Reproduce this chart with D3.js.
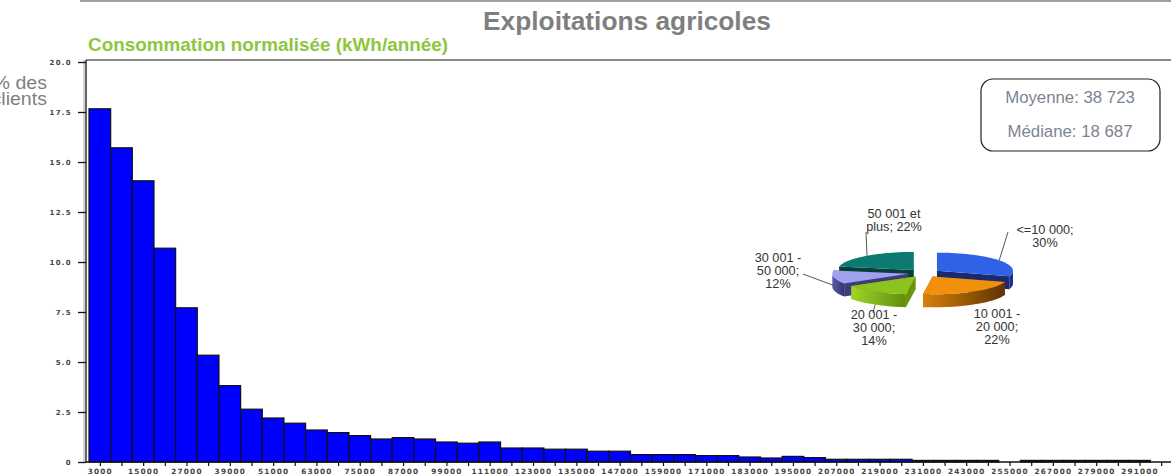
<!DOCTYPE html>
<html>
<head>
<meta charset="utf-8">
<script src="https://cdn.jsdelivr.net/npm/d3@7"></script>
<style>
body { margin: 0; background: #fff; }
svg { display: block; font-family: "Liberation Sans", Arial, sans-serif; }
</style>
</head>
<body>
<svg width="1171" height="475"></svg>
<script>
// histogram : % des clients par tranche de 6000 kWh (0 - 300000)
const binWidth = 6000;
const binShares = [17.66, 15.71, 14.06, 10.69, 7.71, 5.34, 3.82, 2.64, 2.20, 1.94,
    1.60, 1.47, 1.32, 1.15, 1.22, 1.15, 1.00, 0.94, 1.00, 0.70,
    0.70, 0.64, 0.64, 0.54, 0.54, 0.37, 0.37, 0.37, 0.32, 0.32,
    0.25, 0.20, 0.28, 0.22, 0.135, 0.135, 0.135, 0.135, 0.08, 0.08,
    0.08, 0.08, 0, 0.08, 0.08, 0.08, 0.08, 0.08, 0.08, 0];
const xTickLabels = [3000, 15000, 27000, 39000, 51000, 63000, 75000, 87000, 99000,
    111000, 123000, 135000, 147000, 159000, 171000, 183000, 195000, 207000, 219000,
    231000, 243000, 255000, 267000, 279000, 291000];
const yTicks = [0, 2.5, 5, 7.5, 10, 12.5, 15, 17.5, 20];

// camembert
const pieCategories = ["<=10 000", "10 001 - 20 000", "20 001 - 30 000", "30 001 - 50 000", "50 001 et plus"];
const pieShares = [30, 22, 14, 12, 22];
const pieLabelLines = [["<=10 000;", "30%"], ["10 001 -", "20 000;", "22%"],
    ["20 001 -", "30 000;", "14%"], ["30 001 -", "50 000;", "12%"], ["50 001 et", "plus; 22%"]];
const statLines = ["Moyenne: 38 723", "Médiane: 18 687"];

const svg = d3.select("svg");

// top rule
svg.append("line")
    .attr("x1", 80).attr("x2", 1171).attr("y1", 1).attr("y2", 1)
    .attr("stroke", "#a0a0a0").attr("stroke-width", 2);

svg.append("text")
    .attr("x", 627).attr("y", 30)
    .attr("text-anchor", "middle")
    .attr("font-size", "26.3px").attr("font-weight", "bold")
    .attr("fill", "#7f7f7f")
    .text("Exploitations agricoles");

svg.append("text")
    .attr("x", 88).attr("y", 51)
    .attr("font-size", "18.9px").attr("font-weight", "bold")
    .attr("fill", "#8dc63f")
    .text("Consommation normalisée (kWh/année)");

// y label (cut by the left edge, as in the source)
svg.append("text")
    .attr("transform", "translate(47,0) scale(1.12,1)")
    .attr("text-anchor", "end")
    .attr("font-size", "17.5px").attr("fill", "#7f7f7f")
    .selectAll("tspan")
    .data(["% des", "clients"])
    .enter().append("tspan")
        .attr("x", 0)
        .attr("y", (d, i) => 89 + i * 16)
        .text(d => d);

// scales
const x = d3.scaleLinear().domain([0, binShares.length * binWidth]).range([89, 1172]);
const y = d3.scaleLinear().domain([0, 20]).range([462, 62]);

// frame
svg.append("line")
    .attr("x1", 86).attr("x2", 1171).attr("y1", 60).attr("y2", 60)
    .attr("stroke", "#111").attr("stroke-width", 1.2);
svg.append("line")
    .attr("x1", 84).attr("x2", 84).attr("y1", 60).attr("y2", 462)
    .attr("stroke", "#b8b8b8").attr("stroke-width", 1.2);
svg.append("line")
    .attr("x1", 86).attr("x2", 86).attr("y1", 60).attr("y2", 462)
    .attr("stroke", "#111").attr("stroke-width", 1.3);

// bars
svg.append("g").selectAll("rect")
    .data(binShares.map((v, i) => ({ start: i * binWidth, v: v })).filter(d => d.v > 0))
    .enter().append("rect")
        .attr("x", d => x(d.start))
        .attr("y", d => y(d.v))
        .attr("width", d => x(d.start + binWidth) - x(d.start))
        .attr("height", d => y(0) - y(d.v))
        .attr("fill", "#0000ff")
        .attr("stroke", "#111")
        .attr("stroke-width", 1.2);

// y axis
const yAxis = svg.append("g")
    .attr("transform", "translate(86,0)")
    .call(d3.axisLeft(y).tickValues(yTicks).tickSize(8).tickPadding(6)
        .tickFormat(d => d === 0 ? "0" : d3.format(".1f")(d)));
yAxis.select(".domain").remove();
yAxis.selectAll(".tick line").attr("stroke", "#111").attr("stroke-width", 1.3);
yAxis.selectAll(".tick text")
    .attr("font-size", "7px").attr("font-weight", "bold")
    .attr("letter-spacing", "1.3px").attr("fill", "#444")
    .attr("font-family", "'DejaVu Sans', sans-serif");

// x axis
const binCenters = binShares.map((v, i) => i * binWidth + binWidth / 2);
const xAxis = svg.append("g")
    .attr("transform", "translate(0,462)")
    .call(d3.axisBottom(x).tickValues(binCenters).tickSize(4).tickPadding(3)
        .tickFormat(d => xTickLabels.includes(d) ? String(d) : ""));
xAxis.select(".domain").remove();
xAxis.selectAll(".tick line").attr("stroke", "#111").attr("stroke-width", 1.2);
xAxis.selectAll(".tick text")
    .attr("font-size", "7.3px").attr("font-weight", "bold")
    .attr("letter-spacing", "1.2px").attr("fill", "#444")
    .attr("font-family", "'DejaVu Sans', sans-serif");
svg.append("line")
    .attr("x1", 86).attr("x2", 1171).attr("y1", 462).attr("y2", 462)
    .attr("stroke", "#111").attr("stroke-width", 1.5);

// stats box
svg.append("rect")
    .attr("x", 981).attr("y", 79).attr("width", 179).attr("height", 72)
    .attr("rx", 12).attr("fill", "#fff")
    .attr("stroke", "#222").attr("stroke-width", 1.2);
svg.append("g").selectAll("text")
    .data(statLines)
    .enter().append("text")
        .attr("x", 1070).attr("y", (d, i) => 103 + i * 34)
        .attr("text-anchor", "middle")
        .attr("font-size", "16.8px").attr("fill", "#7b8591")
        .text(d => d);

// 3D exploded pie
const cx = 924, cy = 273, rx = 76, ry = 18, depth = 13, ex = 16, ey = 4;
const palette = [
    { top: "#2f62e6", wall: ["#22399a", "#17286e"], face: "#1a2a70" },
    { top: "#f0900c", wall: ["#d98008", "#5e3304"], face: "#8c4e05" },
    { top: "#8ec21c", wall: ["#a2d42a", "#5f8d0a"], face: "#6a9510" },
    { top: "#9ea1f0", wall: ["#5a5ab0", "#34346e"], face: "#3c3c78" },
    { top: "#0c7a70", wall: ["#075a52", "#043c36"], face: "#053f39" }
];

const defs = svg.append("defs");
palette.forEach((p, i) => {
    const g = defs.append("linearGradient").attr("id", "wall" + i)
        .attr("x1", "0%").attr("x2", "100%").attr("y1", "0%").attr("y2", "0%");
    g.append("stop").attr("offset", "0%").attr("stop-color", p.wall[0]);
    g.append("stop").attr("offset", "100%").attr("stop-color", p.wall[1]);
});

const slices = d3.pie().sort(null).value(d => d)(pieShares).map((s, i) => {
    const mid = (s.startAngle + s.endAngle) / 2;
    return {
        i: i, a0: s.startAngle, a1: s.endAngle, mid: mid,
        ox: cx + ex * Math.sin(mid),
        oy: cy - ey * Math.cos(mid)
    };
});

function pt(s, a, drop) {
    return [s.ox + rx * Math.sin(a), s.oy - ry * Math.cos(a) + (drop || 0)];
}
function arcPts(s, a0, a1, drop) {
    const n = Math.max(2, Math.ceil((a1 - a0) / 0.05));
    return d3.range(n + 1).map(k => pt(s, a0 + (a1 - a0) * k / n, drop));
}
const line = d3.line();

const pieG = svg.append("g");
// back slices first
slices.slice().sort((a, b) => -Math.cos(a.mid) - -Math.cos(b.mid)).forEach(s => {
    const p = palette[s.i];
    const g = pieG.append("g");
    const c = [s.ox, s.oy], cd = [s.ox, s.oy + depth];
    // radial cut faces
    [s.a0, s.a1].forEach(a => {
        g.append("path")
            .attr("d", line([c, pt(s, a), pt(s, a, depth), cd]) + "Z")
            .attr("fill", p.face);
    });
    // outer wall, front half only
    const w0 = Math.max(s.a0, Math.PI / 2), w1 = Math.min(s.a1, 3 * Math.PI / 2);
    if (w1 > w0) {
        const top = arcPts(s, w0, w1, 0);
        const bottom = arcPts(s, w0, w1, depth).reverse();
        g.append("path")
            .attr("d", line(top.concat(bottom)) + "Z")
            .attr("fill", "url(#wall" + s.i + ")");
    }
    // top face
    g.append("path")
        .attr("d", line([c].concat(arcPts(s, s.a0, s.a1, 0))) + "Z")
        .attr("fill", p.top);
});

// pie labels + leader lines
const labelLayout = [
    { x: 1045, y: 234, anchorA: 55, anchorDrop: 0, lineTo: [1008, 232] },
    { x: 997, y: 318, anchorA: null },
    { x: 874, y: 319, anchorA: 212, anchorDrop: depth, lineTo: [873, 313] },
    { x: 778, y: 262, anchorA: 248, anchorDrop: depth / 2, lineTo: [803, 274] },
    { x: 894, y: 218, anchorA: 322, anchorDrop: 0, lineTo: [866, 232] }
];

labelLayout.forEach((l, i) => {
    if (l.anchorA !== null) {
        const start = pt(slices[i], l.anchorA * Math.PI / 180, l.anchorDrop);
        pieG.append("line")
            .attr("x1", start[0]).attr("y1", start[1])
            .attr("x2", l.lineTo[0]).attr("y2", l.lineTo[1])
            .attr("stroke", "#555").attr("stroke-width", 1);
    }
    pieG.append("text")
        .attr("text-anchor", "middle")
        .attr("font-size", "12.7px").attr("fill", "#333")
        .attr("data-cat", pieCategories[i])
        .selectAll("tspan")
        .data(pieLabelLines[i])
        .enter().append("tspan")
            .attr("x", l.x)
            .attr("y", (d, k) => l.y + k * 12.8)
            .text(d => d);
});
</script>
</body>
</html>
